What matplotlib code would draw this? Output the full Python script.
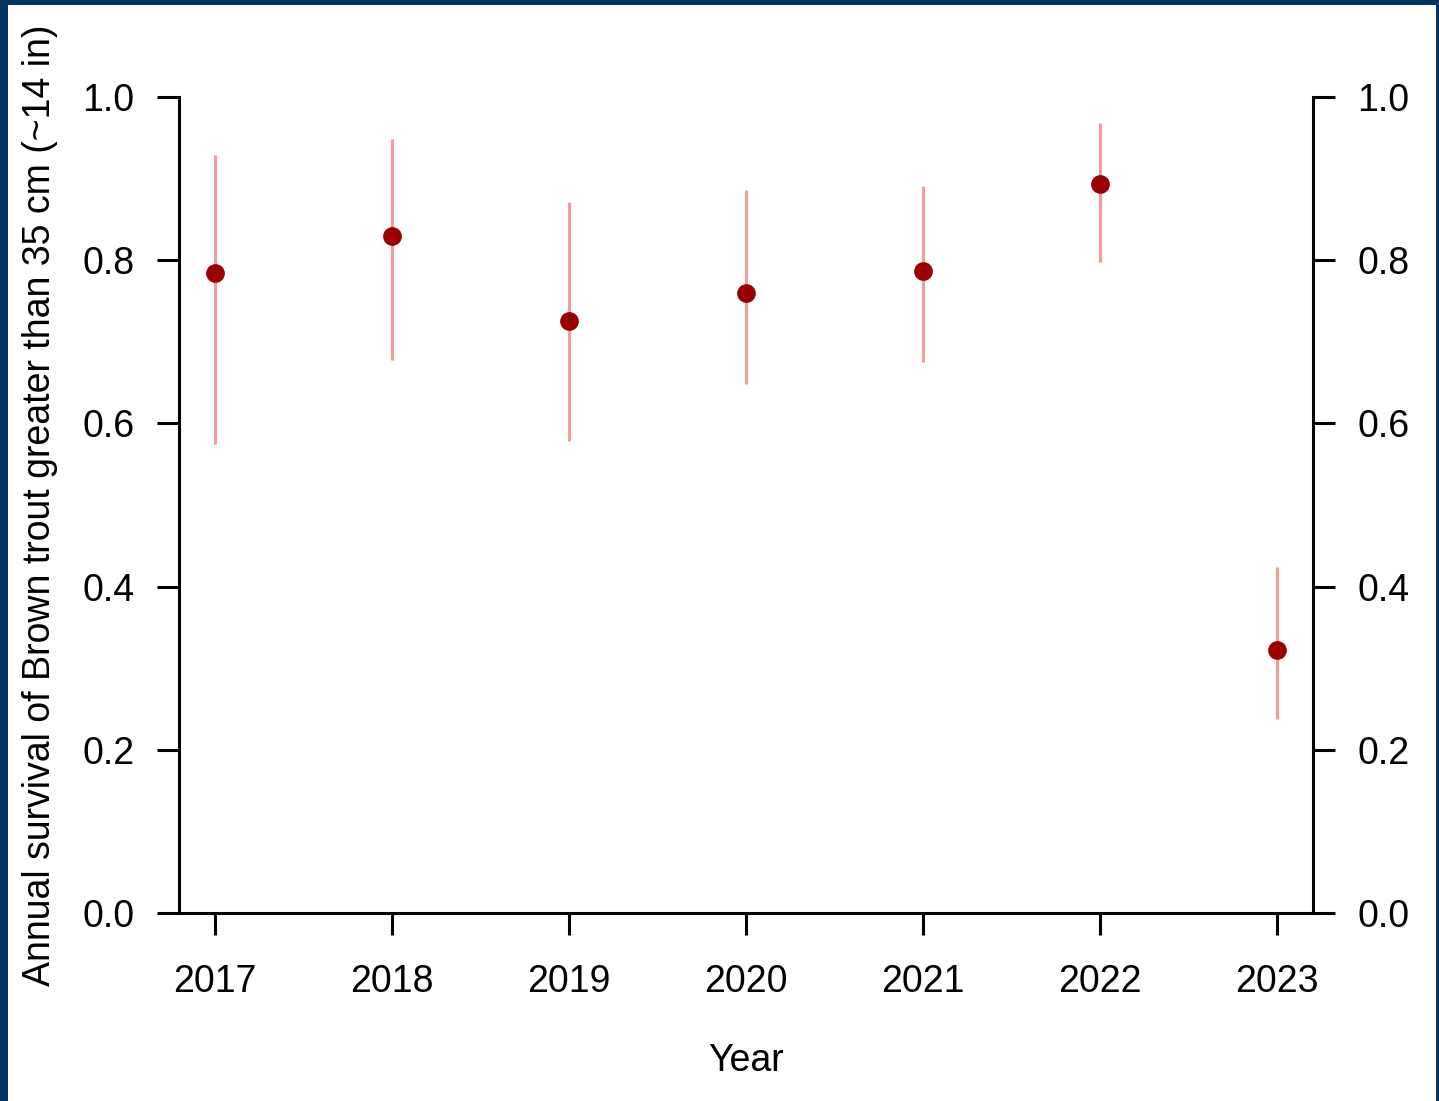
import matplotlib
matplotlib.use("Agg")
import matplotlib.pyplot as plt
from matplotlib.patches import Rectangle

years = [2017, 2018, 2019, 2020, 2021, 2022, 2023]
survival = [0.784, 0.830, 0.725, 0.760, 0.787, 0.893, 0.322]
ci_low = [0.575, 0.678, 0.578, 0.648, 0.675, 0.798, 0.238]
ci_high = [0.929, 0.949, 0.871, 0.886, 0.891, 0.968, 0.424]
yticks = [0.0, 0.2, 0.4, 0.6, 0.8, 1.0]
ylabels = ["0.0", "0.2", "0.4", "0.6", "0.8", "1.0"]

plt.rcParams['font.family'] = ['Liberation Sans', 'DejaVu Sans']

W, H = 1439, 1101
fig = plt.figure(figsize=(W / 100, H / 100), dpi=100)
fig.patch.set_facecolor('#02355F')
fig.patches.append(Rectangle((8 / W, 0), (1436 - 8) / W, (H - 5) / H,
                             transform=fig.transFigure, facecolor='white',
                             edgecolor='none', zorder=-5))

ax = fig.add_axes([179 / W, (H - 913) / H, (1313 - 179) / W, (913 - 97) / H])
ax.set_facecolor('none')
ax.set_zorder(5)

ax.vlines(years, ci_low, ci_high, color='#F89A9A', lw=2.2, zorder=2)
ax.plot(years, survival, 'o', color='#9A0000', markersize=13.5, zorder=3,
        markeredgewidth=0)

ax.set_xlim(2016.797, 2023.203)
ax.set_ylim(0, 1)
ax.spines['top'].set_visible(False)
for s in ['left', 'right', 'bottom']:
    ax.spines[s].set_linewidth(2.2)
    ax.spines[s].set_color('black')

ax.set_xticks(years)
ax.set_xticklabels([str(y) for y in years])
ax.set_yticks(yticks)
ax.set_yticklabels(ylabels)
ax.tick_params(axis='both', length=16, width=2.2, labelsize=27, color='black')
ax.tick_params(axis='x', pad=21)
ax.tick_params(axis='y', pad=16, right=True, labelright=True)

ax.set_xlabel('Year', fontsize=27, labelpad=31)
ax.set_ylabel('Annual survival of Brown trout greater than 35 cm (~14 in)',
              fontsize=27)
ax.yaxis.set_label_coords((58 - 179) / (1313 - 179), 0.5)
ax.yaxis.label.set_va('bottom')

fig.savefig('out.png', dpi=100, facecolor=fig.get_facecolor())
